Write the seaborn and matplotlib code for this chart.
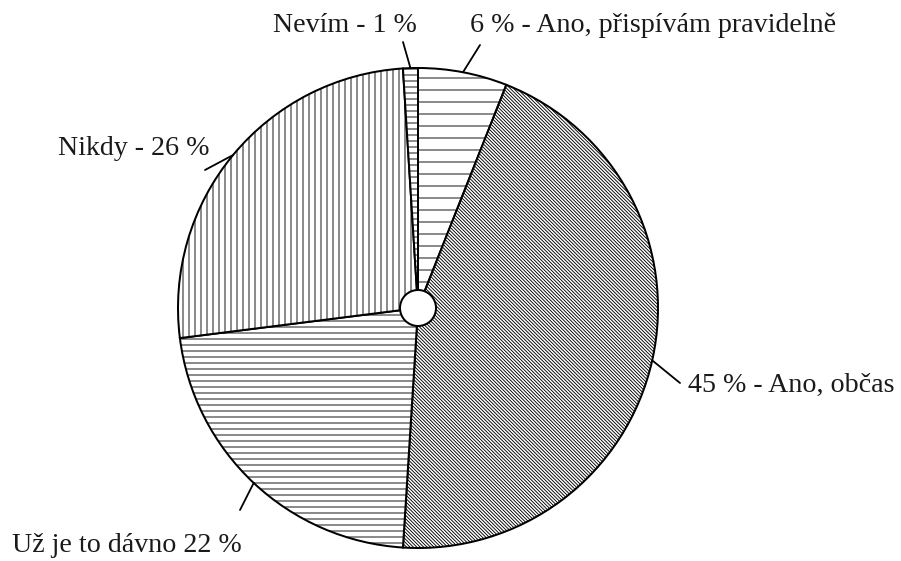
import matplotlib
matplotlib.use("Agg")
import matplotlib.pyplot as plt
import seaborn as sns
import numpy as np

sns.set_theme(style="white")
plt.rcParams['font.family'] = ['Liberation Serif', 'DejaVu Serif']
plt.rcParams['hatch.linewidth'] = 0.9
plt.rcParams['hatch.color'] = 'black'

# data (clockwise from top)
labels = ["6 % - Ano, přispívám pravidelně", "45 % - Ano, občas",
          "Už je to dávno 22 %", "Nikdy - 26 %", "Nevím - 1 %"]
values = [6, 45, 22, 26, 1]
hatches = ['-', '\\' * 7, '--', '||', '--']

DPI = 72
fig = plt.figure(figsize=(901 / DPI, 561 / DPI), dpi=DPI)
ax = fig.add_axes([0, 0, 1, 1])

wedges, _ = ax.pie(values, startangle=90, counterclock=False, radius=1.0,
                   colors=['white'] * len(values),
                   wedgeprops=dict(edgecolor='black', linewidth=2.0))
for w, h in zip(wedges, hatches):
    w.set_hatch(h)

# centre circle
ax.add_patch(plt.Circle((0, 0), 0.075, facecolor='white', edgecolor='black',
                        linewidth=2.0, zorder=5))

# map pixels so that pie centre is at (418,308) px, radius 240 px
cx, cy, R = 418, 308, 240
ax.set_xlim((0 - cx) / R, (901 - cx) / R)
ax.set_ylim((cy - 561) / R, (cy - 0) / R)
ax.set_aspect('auto')
ax.axis('off')

def px(x, y):
    return ((x - cx) / R, (cy - y) / R)

# label layout: (text anchor px, ha, leader end px)
layout = {
    0: ((470, 25), 'left', (480, 45)),
    1: ((688, 385), 'left', (680, 383)),
    2: ((12, 546), 'left', (240, 510)),
    3: ((58, 148), 'left', (205, 170)),
    4: ((417, 25), 'right', (403, 42)),
}

for i, w in enumerate(wedges):
    mid = np.deg2rad((w.theta1 + w.theta2) / 2)
    edge = (np.cos(mid), np.sin(mid))
    (tx, ty), ha, (lx, ly) = layout[i]
    ax.plot([edge[0], px(lx, ly)[0]], [edge[1], px(lx, ly)[1]],
            color='black', linewidth=1.8, clip_on=False)
    ax.text(*px(tx, ty), labels[i], ha=ha, va='center', fontsize=28,
            color='#1a1a1a')

fig.savefig("out.png", dpi=DPI, facecolor='white')
